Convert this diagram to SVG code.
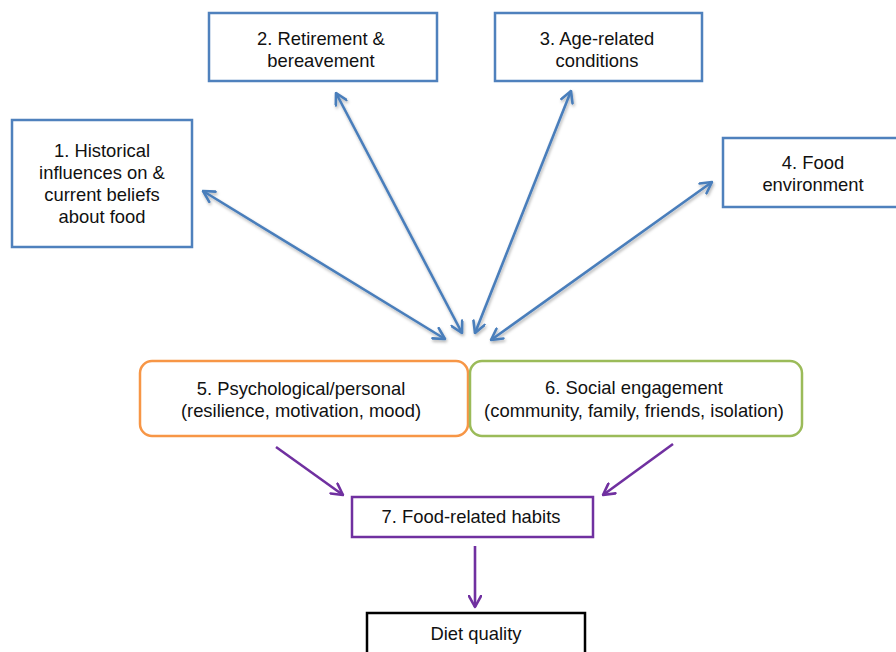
<svg xmlns="http://www.w3.org/2000/svg" width="896" height="652" viewBox="0 0 896 652">
  <style>
    text { font-family: "Liberation Sans", Arial, Helvetica, sans-serif; font-size: 18.4px; fill: #111; text-anchor: middle; }
    .blue { fill: #fff; stroke: #4F81BD; stroke-width: 2.5; }
    .orange { fill: #fff; stroke: #F79646; stroke-width: 2.5; }
    .green { fill: #fff; stroke: #9BBB59; stroke-width: 2.5; }
    .purple { fill: #fff; stroke: #7030A0; stroke-width: 2.5; }
    .black { fill: #fff; stroke: #000; stroke-width: 2.5; }
    .barrow { stroke: #4A7EBB; stroke-width: 2.6; fill: none; marker-start: url(#headB); marker-end: url(#headB); filter: url(#shadow); }
    .parrow { stroke: #7030A0; stroke-width: 2.6; fill: none; marker-end: url(#headP); }
  </style>
  <defs>
    <filter id="shadow" x="-20%" y="-20%" width="140%" height="140%">
      <feDropShadow dx="1" dy="2" stdDeviation="1.5" flood-color="#000" flood-opacity="0.3"/>
    </filter>
    <marker id="headB" viewBox="0 0 14 14" markerWidth="14" markerHeight="14" refX="12.5" refY="7" orient="auto-start-reverse" markerUnits="userSpaceOnUse">
      <path d="M1.5,1 L12.5,7 L1.5,13" fill="none" stroke="#4A7EBB" stroke-width="2.6" stroke-linejoin="round" stroke-linecap="round"/>
    </marker>
    <marker id="headP" viewBox="0 0 14 14" markerWidth="14" markerHeight="14" refX="12.5" refY="7" orient="auto" markerUnits="userSpaceOnUse">
      <path d="M1.5,1 L12.5,7 L1.5,13" fill="none" stroke="#7030A0" stroke-width="2.6" stroke-linejoin="round" stroke-linecap="round"/>
    </marker>
  </defs>

  <g id="connectors">
    <line class="barrow" x1="203" y1="191" x2="445" y2="339"/>
    <line class="barrow" x1="336" y1="93" x2="462" y2="333"/>
    <line class="barrow" x1="571" y1="91" x2="475" y2="333"/>
    <line class="barrow" x1="712" y1="182" x2="491" y2="340"/>
    <line class="parrow" x1="276" y1="447" x2="343" y2="495"/>
    <line class="parrow" x1="673" y1="444" x2="603" y2="495"/>
    <line class="parrow" x1="475" y1="546" x2="475" y2="607"/>
  </g>

  <g id="node1">
    <rect class="blue" x="12" y="120" width="180" height="127"/>
    <text x="102" y="157">1. Historical</text>
    <text x="102" y="179">influences on &amp;</text>
    <text x="102" y="201">current beliefs</text>
    <text x="102" y="223">about food</text>
  </g>
  <g id="node2">
    <rect class="blue" x="209" y="13" width="228" height="68"/>
    <text x="321" y="45">2. Retirement &amp;</text>
    <text x="321" y="67">bereavement</text>
  </g>
  <g id="node3">
    <rect class="blue" x="495" y="13" width="207" height="68"/>
    <text x="597" y="45">3. Age-related</text>
    <text x="597" y="67">conditions</text>
  </g>
  <g id="node4">
    <rect class="blue" x="723" y="138" width="180" height="69"/>
    <text x="813" y="169">4. Food</text>
    <text x="813" y="191">environment</text>
  </g>
  <g id="node5">
    <rect class="orange" x="140" y="361" width="328" height="75" rx="12" ry="12"/>
    <text x="301" y="395">5. Psychological/personal</text>
    <text x="301" y="417">(resilience, motivation, mood)</text>
  </g>
  <g id="node6">
    <rect class="green" x="470" y="361" width="332" height="75" rx="12" ry="12"/>
    <text x="634" y="394">6. Social engagement</text>
    <text x="634" y="417">(community, family, friends, isolation)</text>
  </g>
  <g id="node7">
    <rect class="purple" x="352" y="497" width="241" height="40"/>
    <text x="471" y="523">7. Food-related habits</text>
  </g>
  <g id="node8">
    <rect class="black" x="367" y="613" width="218" height="50"/>
    <text x="476" y="640">Diet quality</text>
  </g>
</svg>
